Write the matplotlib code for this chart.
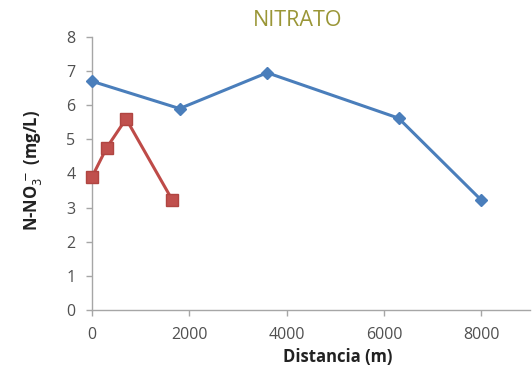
import matplotlib
matplotlib.use("Agg")
import matplotlib.pyplot as plt

# Nitrate concentration along two transects
dist_a = [0, 1800, 3600, 6300, 8000]
no3_a = [6.7, 5.9, 6.95, 5.62, 3.22]
dist_b = [0, 300, 700, 1650]
no3_b = [3.9, 4.75, 5.6, 3.22]

x_ticks = [0, 2000, 4000, 6000, 8000]
y_ticks = [0, 1, 2, 3, 4, 5, 6, 7, 8]

fig = plt.figure(figsize=(5.32, 3.69), dpi=100)
ax = fig.add_axes([0.173, 0.16, 0.823, 0.74])

ax.plot(dist_a, no3_a, color="#4a7ebb", lw=2.2, marker="D", ms=6,
        markerfacecolor="#4a7ebb", markeredgecolor="#4a7ebb", clip_on=False, zorder=3)
ax.plot(dist_b, no3_b, color="#be4b48", lw=2.2, marker="s", ms=8,
        markerfacecolor="#c0504d", markeredgecolor="#b04541", clip_on=False, zorder=3)

ax.set_xlim(0, 9000)
ax.set_ylim(0, 8)
ax.set_xticks(x_ticks)
ax.set_yticks(y_ticks)

for side in ("top", "right"):
    ax.spines[side].set_visible(False)
for side in ("left", "bottom"):
    ax.spines[side].set_color("#a6a6a6")
    ax.spines[side].set_linewidth(1.0)

ax.tick_params(axis="both", colors="#a6a6a6", length=4, width=1,
               labelcolor="#505050", labelsize=11.5)
ax.tick_params(axis="x", pad=8)
ax.tick_params(axis="y", pad=8)
for lab in ax.get_xticklabels() + ax.get_yticklabels():
    lab.set_family("Open Sans")

ax.set_xlabel("Distancia (m)", fontsize=12, fontweight="bold",
              family="Open Sans", color="#222222")
ax.xaxis.set_label_coords(0.56, -0.14)
ax.set_ylabel(r"N-NO$_{3}^{\,-}$ (mg/L)", fontsize=12, fontweight="bold",
              family="Open Sans", color="#222222")
ax.yaxis.set_label_coords(-0.11, 0.51)

fig.text(0.56, 0.945, "NITRATO", ha="center", va="center", fontsize=15.5,
         family="Open Sans", color="#9a9637")

fig.savefig("out.png", dpi=100, facecolor="white")
